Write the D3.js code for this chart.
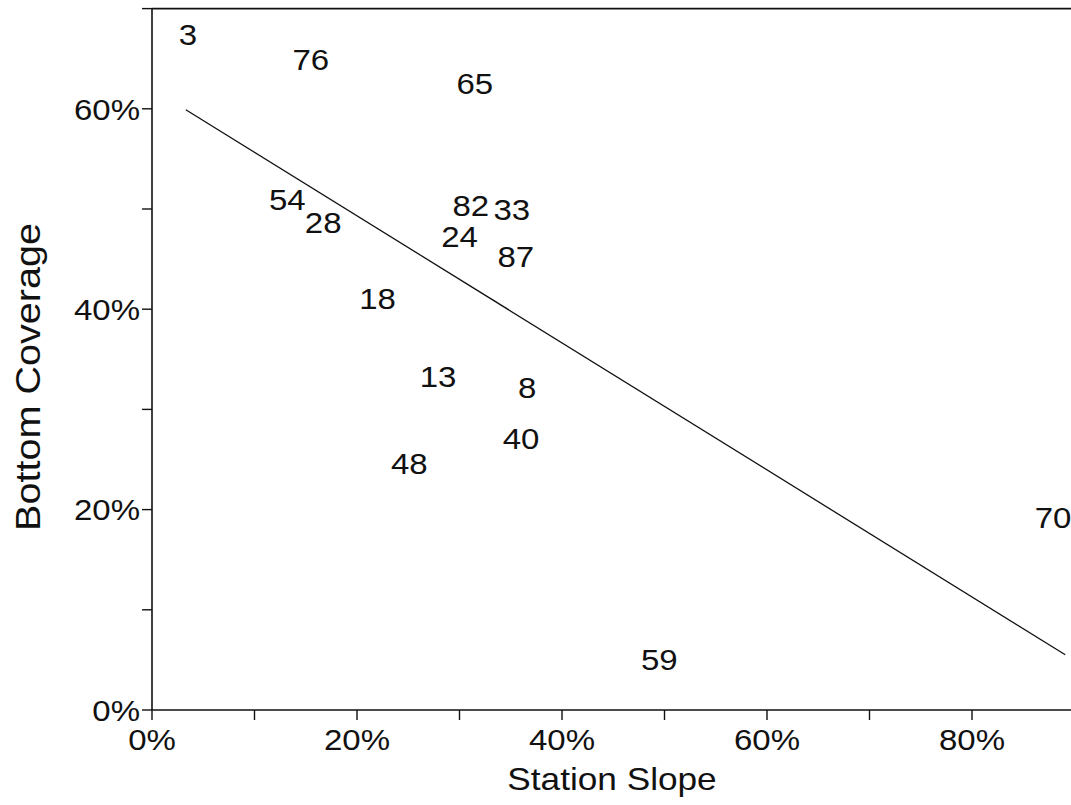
<!DOCTYPE html>
<html>
<head>
<meta charset="utf-8">
<script src="https://cdn.jsdelivr.net/npm/d3@7"></script>
<style>
  html, body { margin: 0; padding: 0; background: #fff; }
  svg text { font-family: "Liberation Sans", Arial, Helvetica, sans-serif; fill: #111; }
</style>
</head>
<body>
<svg id="chart" width="1071" height="805"></svg>
<script>
// Station numbers, plotted as text at (slope, coverage)
const stations = ["3", "76", "65", "54", "28", "82", "33", "24", "87", "18", "13", "8", "40", "48", "70", "59"];
const slopePct = [3.5, 15.5, 31.5, 13.2, 16.7, 31.1, 35.1, 30.0, 35.5, 22.0, 27.9, 36.6, 36.0, 25.1, 87.9, 49.5];
const coveragePct = [67.4, 65.0, 62.6, 51.0, 48.7, 50.4, 50.0, 47.3, 45.3, 41.1, 33.3, 32.2, 27.1, 24.6, 19.2, 5.1];

// Least-squares fit: coverage = intercept + slope * stationSlope
const fitIntercept = 62.0;
const fitSlope = -0.634;
const fitRange = [3.3, 89.1];

// Axis ticks
const xTicks = [0, 10, 20, 30, 40, 50, 60, 70, 80];
const xTickLabels = ["0%", "", "20%", "", "40%", "", "60%", "", "80%"];
const yTicks = [0, 10, 20, 30, 40, 50, 60, 70];
const yTickLabels = ["0%", "", "20%", "", "40%", "", "60%", ""];

const W = 1071, H = 805;
const svg = d3.select("#chart");
const fontSize = 30;
const stretch = 1.1;

const x = d3.scaleLinear().domain([0, 90]).range([152, 1074.5]);
const y = d3.scaleLinear().domain([0, 70]).range([710, 8.6]);

// x axis
const xAxis = svg.append("g").attr("transform", `translate(0,${y(0)})`);
xAxis.append("line")
  .attr("x1", x(0)).attr("x2", W)
  .attr("stroke", "#111").attr("stroke-width", 1.6);
const xt = xAxis.selectAll("g.tick").data(xTicks).join("g")
  .attr("class", "tick")
  .attr("transform", d => `translate(${x(d)},0)`);
xt.append("line").attr("y1", 0).attr("y2", 10).attr("stroke", "#111").attr("stroke-width", 1.4);
xt.append("text")
  .attr("text-anchor", "middle")
  .attr("transform", `translate(0,40) scale(${stretch},1)`)
  .style("font-size", fontSize + "px")
  .text((d, i) => xTickLabels[i]);

// y axis
const yAxis = svg.append("g").attr("transform", `translate(${x(0)},0)`);
yAxis.append("line")
  .attr("y1", y(0)).attr("y2", y(70))
  .attr("stroke", "#111").attr("stroke-width", 1.6);
const yt = yAxis.selectAll("g.tick").data(yTicks).join("g")
  .attr("class", "tick")
  .attr("transform", d => `translate(0,${y(d)})`);
yt.append("line").attr("x1", -10).attr("x2", 0).attr("stroke", "#111").attr("stroke-width", 1.4);
yt.append("text")
  .attr("text-anchor", "end")
  .attr("transform", `translate(-12,${fontSize * 0.36}) scale(${stretch},1)`)
  .style("font-size", fontSize + "px")
  .text((d, i) => yTickLabels[i]);

// top frame line
svg.append("line")
  .attr("x1", x(0)).attr("x2", W)
  .attr("y1", y(70)).attr("y2", y(70))
  .attr("stroke", "#111").attr("stroke-width", 1.6);

// axis titles
svg.append("text")
  .attr("text-anchor", "middle")
  .attr("transform", `translate(612,790) scale(${stretch},1)`)
  .style("font-size", "32px")
  .text("Station Slope");
svg.append("text")
  .attr("text-anchor", "middle")
  .attr("transform", `translate(40,377) rotate(-90) scale(${stretch},1)`)
  .style("font-size", "36px")
  .text("Bottom Coverage");

// fitted line
svg.append("line")
  .attr("x1", x(fitRange[0])).attr("y1", y(fitIntercept + fitSlope * fitRange[0]))
  .attr("x2", x(fitRange[1])).attr("y2", y(fitIntercept + fitSlope * fitRange[1]))
  .attr("stroke", "#111").attr("stroke-width", 1.3);

// station labels
svg.append("g").selectAll("text").data(stations).join("text")
  .attr("text-anchor", "middle")
  .attr("transform", (d, i) => `translate(${x(slopePct[i])},${y(coveragePct[i]) + fontSize * 0.36}) scale(${stretch},1)`)
  .style("font-size", fontSize + "px")
  .text(d => d);
</script>
</body>
</html>
